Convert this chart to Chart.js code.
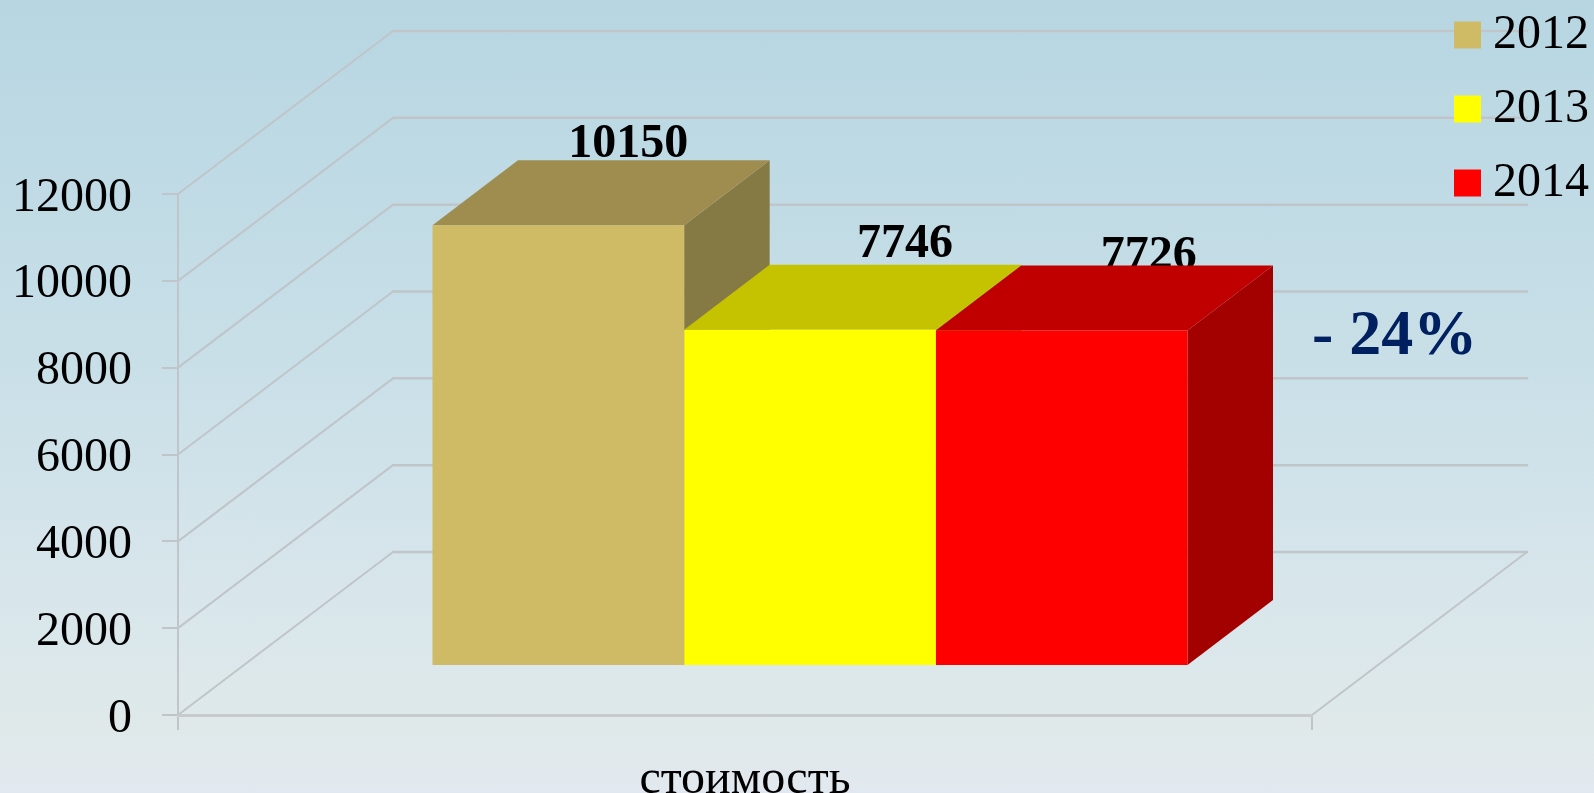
<!DOCTYPE html>
<html>
<head>
<meta charset="utf-8">
<style>
html,body{margin:0;padding:0;width:1594px;height:793px;overflow:hidden;
background:linear-gradient(180deg,#b7d6e2 0%,#c0dbe5 25%,#cbe0e8 50%,#d8e6eb 75%,#dfe9ea 92%,#e2e8ef 100%);}
canvas{display:block}
</style>
<script src="https://cdn.jsdelivr.net/npm/chart.js@4"></script>
</head>
<body>
<canvas id="c" width="1594" height="793"></canvas>
<script>
const categories = ['стоимость'];
const seriesNames = ['2012', '2013', '2014'];
const values2012 = [10150];
const values2013 = [7746];
const values2014 = [7726];
const yMax = 12000;
const yStep = 2000;
const note = '- 24%';

const frontColors = ['#cfba65', '#ffff00', '#ff0000'];
const topColors = ['#9f8d50', '#c5c200', '#c00000'];
const sideColors = ['#867a44', '#a8a500', '#a30000'];
const gridColor = '#bfc5c9';
const serif = '"Liberation Serif", serif';

// projection of the depth axis, in pixels
const wallDx = 215, wallDy = -163;
const barShiftX = 65, barShiftY = -49;
const barDx = 85.5, barDy = -65;
const labelOffsets = [[70, -3], [95, -8], [87, 3]];

function line(ctx, x1, y1, x2, y2, w) {
  ctx.lineWidth = w;
  ctx.beginPath(); ctx.moveTo(x1, y1); ctx.lineTo(x2, y2); ctx.stroke();
}
function poly(ctx, pts, fill) {
  ctx.fillStyle = fill;
  ctx.beginPath();
  pts.forEach((p, i) => i ? ctx.lineTo(p[0], p[1]) : ctx.moveTo(p[0], p[1]));
  ctx.closePath(); ctx.fill();
}

const box3d = {
  id: 'box3d',
  afterLayout(chart) {
    const l = chart.legend;
    l.left = 1428; l.right = 1589; l.top = -15; l.bottom = 320;
    l.width = l.right - l.left; l.height = l.bottom - l.top;
  },
  beforeDraw(chart) {
    const {ctx, chartArea: a, scales: {y}} = chart;
    ctx.save();
    ctx.strokeStyle = gridColor;
    ctx.lineCap = 'round';
    y.ticks.forEach(t => {
      const py = y.getPixelForValue(t.value);
      line(ctx, a.left, py, a.left + wallDx, py + wallDy, 2);
      line(ctx, a.left + wallDx, py + wallDy, a.right + wallDx, py + wallDy, 2.5);
    });
    const y0 = y.getPixelForValue(0);
    line(ctx, a.right, y0, a.right + wallDx, y0 + wallDy, 2);
    ctx.restore();
  },
  beforeDatasetsDraw(chart) {
    const {ctx} = chart;
    ctx.save();
    ctx.translate(barShiftX, barShiftY);
    // value labels sit behind the box tops
    ctx.fillStyle = '#000';
    ctx.font = 'bold 48px ' + serif;
    ctx.textAlign = 'center';
    ctx.textBaseline = 'alphabetic';
    chart.data.datasets.forEach((ds, i) => {
      const el = chart.getDatasetMeta(i).data[0];
      ctx.fillText(String(ds.data[0]),
        el.x + labelOffsets[i][0],
        el.y + barDy + labelOffsets[i][1]);
    });
    chart.data.datasets.forEach((ds, i) => {
      const el = chart.getDatasetMeta(i).data[0];
      const L = el.x - el.width / 2, R = el.x + el.width / 2, T = el.y, B = el.base;
      poly(ctx, [[R, T], [R + barDx, T + barDy], [R + barDx, B + barDy], [R, B]], sideColors[i]);
      poly(ctx, [[L, T], [L + barDx, T + barDy], [R + barDx, T + barDy], [R, T]], topColors[i]);
    });
  },
  afterDatasetsDraw(chart) {
    const {ctx} = chart;
    ctx.restore();
    ctx.save();
    ctx.fillStyle = '#002060';
    ctx.font = 'bold 64px ' + serif;
    ctx.textAlign = 'left';
    ctx.textBaseline = 'alphabetic';
    ctx.fillText(note, 1312, 354);
    ctx.restore();
  }
};

new Chart(document.getElementById('c'), {
  type: 'bar',
  data: {
    labels: categories,
    datasets: [values2012, values2013, values2014].map((v, i) => ({
      label: seriesNames[i],
      data: v,
      backgroundColor: frontColors[i],
      borderWidth: 0,
      categoryPercentage: 0.6658,
      barPercentage: 1,
      clip: false
    }))
  },
  plugins: [box3d],
  options: {
    responsive: false,
    animation: false,
    events: [],
    layout: {padding: {top: 194, right: 282, bottom: 0, left: 0}},
    scales: {
      y: {
        min: 0, max: yMax,
        afterFit(s) { s.width = 178; },
        ticks: {
          stepSize: yStep, padding: 30, color: '#000', labelOffset: 4,
          font: {family: serif, size: 48},
          callback: v => String(v)
        },
        grid: {drawOnChartArea: false, tickLength: 16, color: gridColor, lineWidth: 2},
        border: {display: true, color: gridColor, width: 2}
      },
      x: {
        afterFit(s) { s.height = 78; },
        ticks: {
          color: '#000', padding: 22,
          font: {family: serif, size: 48}
        },
        grid: {drawOnChartArea: false, tickLength: 15, color: gridColor, lineWidth: 2},
        border: {display: true, color: '#c8cbce', width: 3}
      }
    },
    plugins: {
      tooltip: {enabled: false},
      legend: {
        position: 'chartArea',
        align: 'start',
        labels: {
          boxWidth: 27, boxHeight: 27, padding: 26,
          color: '#000', textAlign: 'right',
          font: {family: serif, size: 48}
        }
      }
    }
  }
});
</script>
</body>
</html>
